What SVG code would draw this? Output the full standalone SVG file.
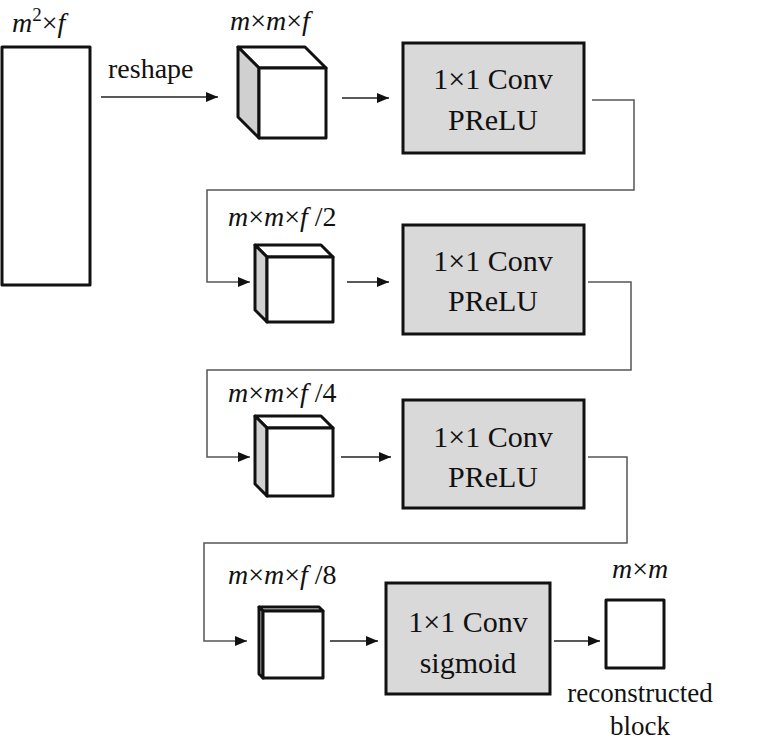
<svg xmlns="http://www.w3.org/2000/svg" width="773" height="745" viewBox="0 0 773 745">
<style>
text{font-family:'Liberation Serif','Tinos','DejaVu Serif','Noto Serif',serif;fill:#111}
.t{font-size:30px;text-anchor:middle}
.r{font-size:27px;text-anchor:middle}
.i{font-size:28px;font-style:italic}
.box{fill:#d9d9d9;stroke:#111;stroke-width:3}
.w{fill:#fff;stroke:#111;stroke-width:3;stroke-linejoin:round}
.g{fill:#d0d0d0;stroke:#111;stroke-width:3;stroke-linejoin:round}
.c{fill:none;stroke:#222;stroke-width:1.3}
.k{fill:none;stroke:#555;stroke-width:1.5}
</style>
<defs><marker id="a" markerWidth="12" markerHeight="10" refX="12" refY="5" orient="auto" markerUnits="userSpaceOnUse"><path d="M0,0L12,5L0,10Z" fill="#111"/></marker></defs>
<g id="vec"><rect x="2" y="47" width="88" height="238" class="w" stroke-width="2"/><text class="i" x="12" y="32">m<tspan font-size="19" dy="-11" font-style="normal">2</tspan><tspan dy="11" font-style="normal">×</tspan>f</text></g>
<g id="cube1"><path class="w" d="M238,47H305L326,68H259Z"/><path class="g" d="M238,47L259,68V138L238,117Z"/><rect class="w" x="259" y="68" width="67" height="70"/><text class="i" x="230" y="30">m<tspan font-style="normal">×</tspan>m<tspan font-style="normal">×</tspan>f</text></g>
<g id="conv1"><rect class="box" x="403" y="43" width="181" height="110"/><text class="t" x="493" y="89">1×1 Conv</text><text class="t" x="493" y="130">PReLU</text></g>
<g id="cube2"><path class="w" d="M255,245H321L333,257H267Z"/><path class="g" d="M255,245L267,257V322L255,310Z"/><rect class="w" x="267" y="257" width="66" height="65"/><text class="i" x="228" y="226">m<tspan font-style="normal">×</tspan>m<tspan font-style="normal">×</tspan>f<tspan font-style="normal"> /2</tspan></text></g>
<g id="conv2"><rect class="box" x="403" y="225" width="181" height="109"/><text class="t" x="493" y="271">1×1 Conv</text><text class="t" x="493" y="311">PReLU</text></g>
<g id="cube3"><path class="w" d="M255,416H321L333,428H267Z"/><path class="g" d="M255,416L267,428V496L255,484Z"/><rect class="w" x="267" y="428" width="66" height="68"/><text class="i" x="228" y="402">m<tspan font-style="normal">×</tspan>m<tspan font-style="normal">×</tspan>f<tspan font-style="normal"> /4</tspan></text></g>
<g id="conv3"><rect class="box" x="403" y="400" width="181" height="108"/><text class="t" x="493" y="447">1×1 Conv</text><text class="t" x="493" y="487">PReLU</text></g>
<g id="cube4"><path class="w" d="M259,607H319L323,611H263Z"/><path class="g" d="M259,607L263,611V678L259,674Z"/><rect class="w" x="263" y="611" width="60" height="67"/><text class="i" x="228" y="584">m<tspan font-style="normal">×</tspan>m<tspan font-style="normal">×</tspan>f<tspan font-style="normal"> /8</tspan></text></g>
<g id="conv4"><rect class="box" x="386" y="583" width="164" height="111"/><text class="t" x="468" y="632">1×1 Conv</text><text class="t" x="468" y="673">sigmoid</text></g>
<g id="out"><rect class="w" x="606" y="600" width="58" height="68" stroke-width="2"/><text class="i" x="612" y="578">m<tspan font-style="normal">×</tspan>m</text><text class="r" x="640" y="702">reconstructed</text><text class="r" x="640" y="735">block</text></g>
<g id="connectors">
<text x="108" y="78" font-size="28">reshape</text>
<path class="c" d="M101,97H218" marker-end="url(#a)"/>
<path class="c" d="M342,98H389" marker-end="url(#a)"/>
<path class="k" d="M592,100H634V190H207V282H250" marker-end="url(#a)"/>
<path class="c" d="M347,282H389" marker-end="url(#a)"/>
<path class="k" d="M588,282H631V370H207V457H250" marker-end="url(#a)"/>
<path class="c" d="M341,457H391" marker-end="url(#a)"/>
<path class="k" d="M588,457H627V543H204V641H247" marker-end="url(#a)"/>
<path class="c" d="M330,641H378" marker-end="url(#a)"/>
<path class="c" d="M554,641H600" marker-end="url(#a)"/>
</g>
</svg>
